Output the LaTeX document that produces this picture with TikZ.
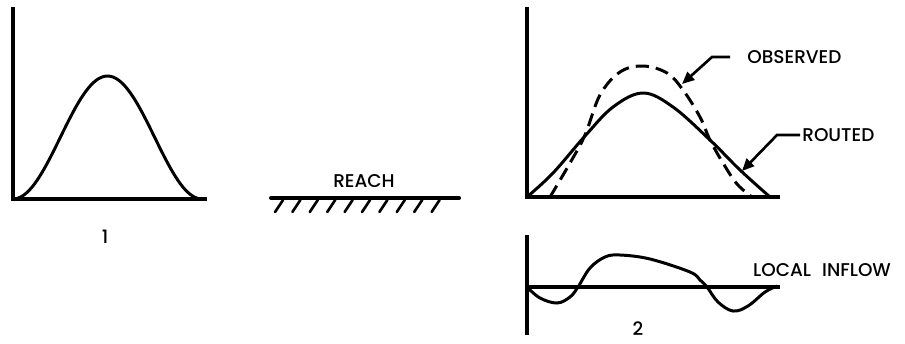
\documentclass[tikz,border=0pt]{standalone}
\usepackage{fontspec}
\setmainfont{Poppins}[BoldFont={Poppins Medium}]
\usetikzlibrary{arrows.meta,positioning}

\begin{document}
\begin{tikzpicture}[
x=0.02cm,y=-0.02cm,
axis/.style={line width=2.3pt,line join=miter},
curve/.style={line width=1.7pt},
obsline/.style={line width=1.7pt,dash pattern=on 7.5pt off 4pt},
lbl/.style={font=\fontsize{10.5}{12}\selectfont\bfseries,inner sep=0pt},
arr/.style={-{Triangle[length=7pt,width=6pt]},line width=1.5pt}
]
\useasboundingbox (0,0) rectangle (905,343);
% panel 1: upstream hydrograph
\draw[axis] (13,7) -- (13,199) -- (207,199);
\draw[curve] plot[domain=0:1,samples=80] ({13+189*\x},{199-123*(1-cos(360*\x))/2});
\node[lbl] (one) at (105,237) {1};
% reach
\draw[line width=2.3pt,line cap=round] (271,198) -- (459,198);
\foreach \i in {0,...,9}
  \draw[line width=1.5pt,line cap=round] ({283+17.4*\i},200) -- ({275+17.4*\i},212);
\node[lbl] (reach) at (364,181) {REACH};
% panel 2: routed and observed
\draw[axis] (527,7) -- (527,197) -- (780,197);
\draw[curve] plot[smooth,tension=0.6] coordinates {(527,197) (553,173) (585,136) (613,107) (643,93) (673,107) (710,140) (740,170) (770,197)};
\draw[obsline] plot[smooth,tension=0.6] coordinates {(550,197) (570,163) (585,135) (600,95) (620,72) (643,66) (667,73) (683,90) (700,117) (710,140) (723,163) (737,184) (752,197)};
\node[lbl,anchor=west] (obs) at (747,57) {OBSERVED};
\coordinate (obsknee) at (712,57);
\coordinate (obstip) at (682,84);
\draw[arr] ([xshift=-0.34cm]obs.west) -- (obsknee) -- (obstip);
\node[lbl,anchor=west] (rte) at (802,135) {ROUTED};
\coordinate (rteknee) at (777,135);
\coordinate (rtetip) at (742,171);
\draw[arr] ([xshift=-0.04cm]rte.west) -- (rteknee) -- (rtetip);
% local inflow
\draw[line width=1.9pt] (527,235) -- (527,335);
\draw[line width=1.9pt] (527,287) -- (780,287);
\draw[curve] plot[smooth,tension=0.6] coordinates {(527,287) (540,298) (557,303) (570,297) (578,287) (590,268) (605,257) (620,255) (650,259) (690,272) (700,280) (707,287) (718,302) (733,311) (748,306) (765,292) (777,286)};
\node[lbl] (inflow) at (822,270) {LOCAL\hspace{0.6em}INFLOW};
\node[lbl] (two) at (638,329) {2};
\end{tikzpicture}
\end{document}
